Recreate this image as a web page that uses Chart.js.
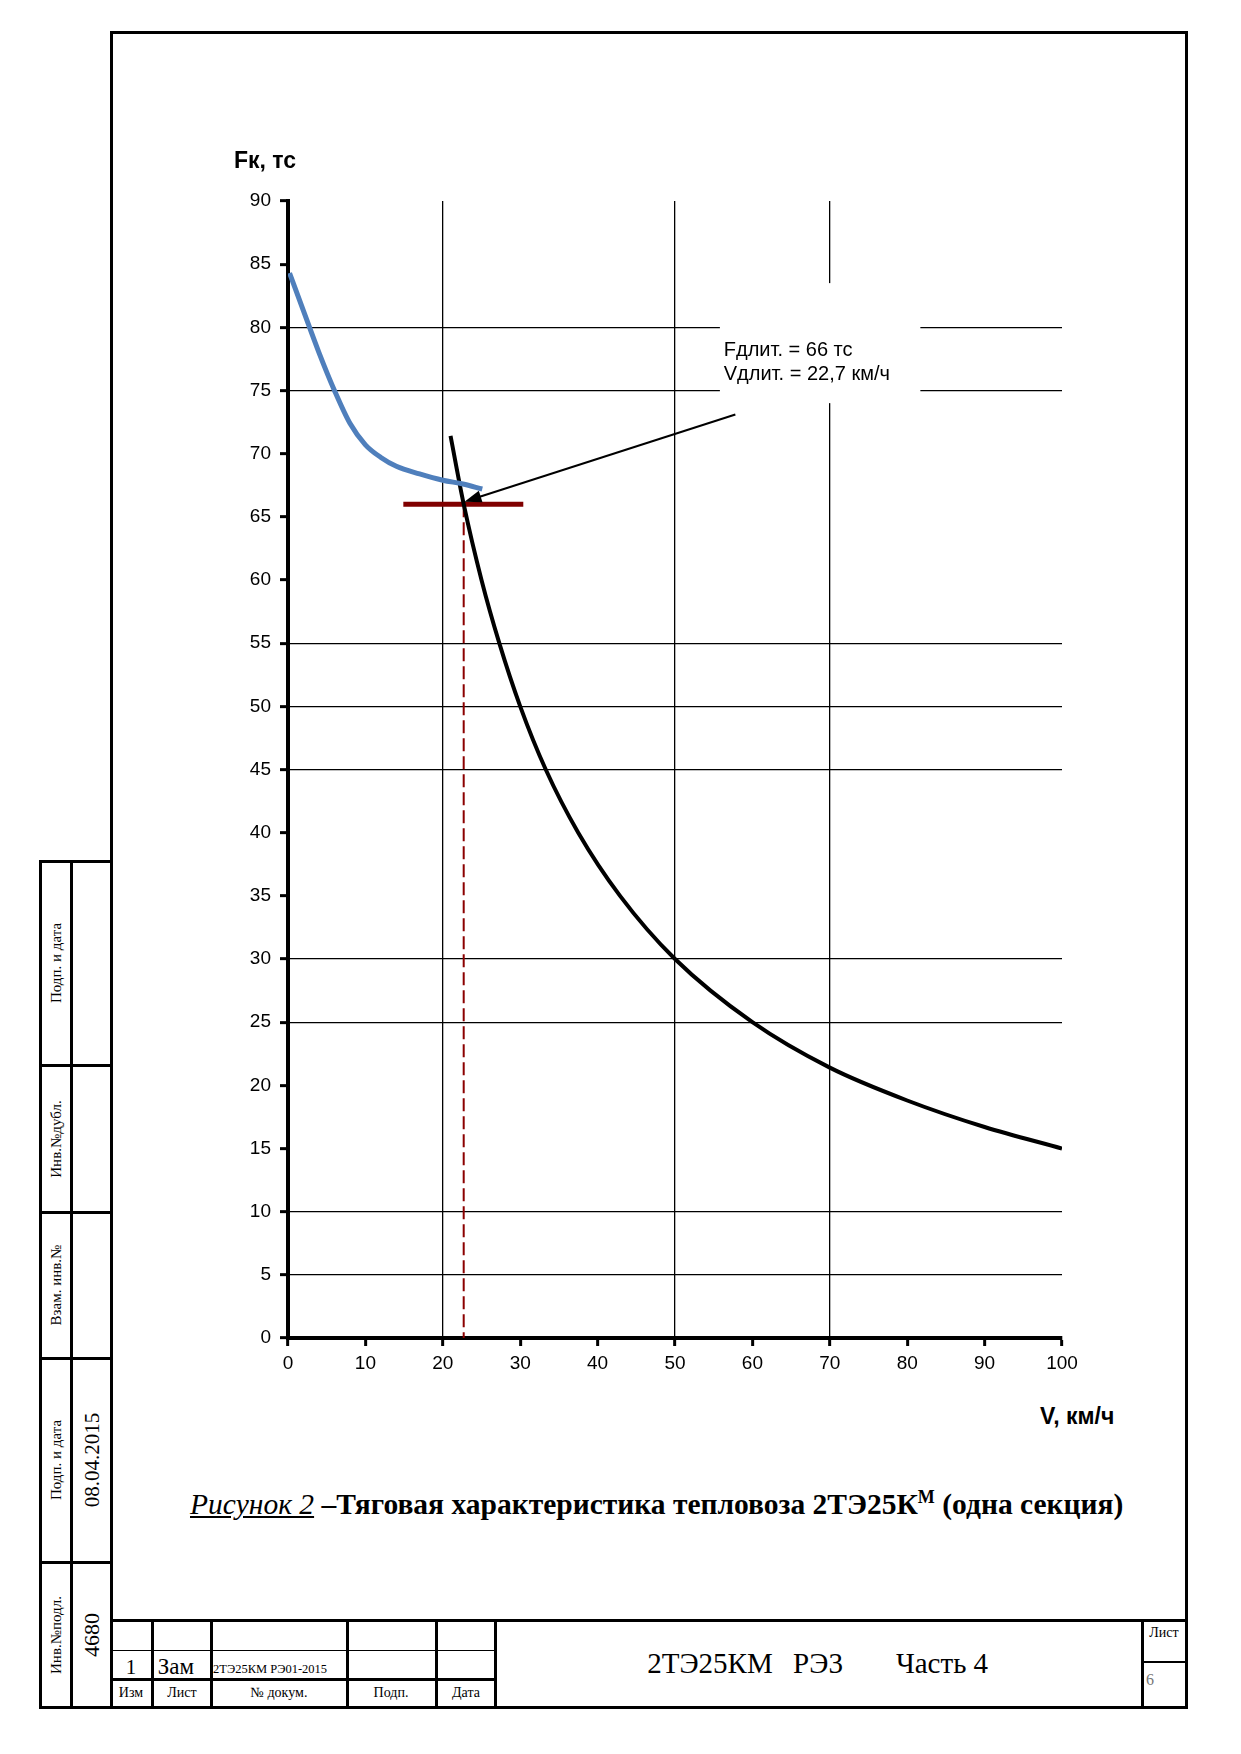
<!DOCTYPE html>
<html>
<head>
<meta charset="utf-8">
<script src="https://cdn.jsdelivr.net/npm/chart.js@4/dist/chart.umd.min.js"></script>
<style>
  html, body { margin: 0; padding: 0; background: #fff; }
  #page { position: relative; width: 1241px; height: 1754px; overflow: hidden; background: #fff; }
  .ln { position: absolute; background: #000; }
  .t { position: absolute; white-space: nowrap; color: #000; font-family: "Liberation Serif", "DejaVu Serif", serif; }
  .sans { font-family: "Liberation Sans", Arial, sans-serif; }
  #chartBox { position: absolute; left: 200px; top: 170px; width: 930px; height: 1230px; }
</style>
</head>
<body>
<div id="page">
  <div id="chartBox"><canvas id="tyaga"></canvas></div>

  <div class="t sans" style="left:234px; top:147px; font-size:23px; font-weight:bold;">Fк, тс</div>
  <div class="t sans" style="left:1040px; top:1403px; font-size:23px; font-weight:bold;">V, км/ч</div>

  <div class="t" style="left:190px; top:1487px; font-size:29.5px;">
    <span style="font-style:italic; text-decoration:underline;">Рисунок 2</span>
    <b>–Тяговая характеристика тепловоза 2ТЭ25К<sup style="font-size:18px;">М</sup> (одна секция)</b>
  </div>
</div>

<script>
// Тяговая характеристика: Fк (тс) от V (км/ч)
const blueV = [0.2, 2.0, 4.0, 6.0, 8.0, 10.0, 12.0, 14.0, 17.0, 20.0, 22.6, 25.1];
const blueF = [84.3, 81.3, 78.0, 75.0, 72.4, 70.7, 69.7, 69.0, 68.4, 67.9, 67.6, 67.2];

const blackV = [21, 22.7, 25, 27.3, 30, 33.3, 37.5, 42.9, 50, 60, 70, 80, 90, 100];
const blackF = [71.4, 66, 60, 55, 50, 45, 40, 35, 30, 25, 21.4, 18.8, 16.7, 15];

// длительный режим
const dlitV = 22.7;
const dlitF = 66;
const dlitLineV = [14.9, 30.4];

// сетка (только эти линии видны на рисунке)
const gridX = [20, 50, 70];
const gridY = [5, 10, 25, 30, 45, 50, 55, 75, 80];

// подпись и стрелка
const labelLines = ['Fдлит. = 66 тс', 'Vдлит. = 22,7 км/ч'];
const labelV = 56.3;
const labelF = [78.2, 76.3];
const boxV = [55.8, 81.7];
const boxF = [83.5, 74.0];
const arrowFrom = [57.8, 73.1];
const arrowTo = [22.8, 66.2];

function pts(xs, ys) {
  return xs.map((v, i) => ({ x: v, y: ys[i] }));
}

// линии рамки и штампа
const page = document.getElementById('page');
function line(x, y, w, h) {
  const d = document.createElement('div');
  d.className = 'ln';
  d.style.left = x + 'px'; d.style.top = y + 'px';
  d.style.width = w + 'px'; d.style.height = h + 'px';
  page.appendChild(d);
}
function text(str, x, y, size, extra) {
  const d = document.createElement('div');
  d.className = 't';
  d.textContent = str;
  d.style.left = x + 'px'; d.style.top = y + 'px';
  d.style.fontSize = size + 'px';
  d.style.transform = 'translate(-50%, -50%)';
  if (extra) Object.assign(d.style, extra);
  page.appendChild(d);
}
function rtext(str, x, y, size) {
  text(str, x, y, size, { transform: 'translate(-50%, -50%) rotate(-90deg)' });
}

// рамка листа
line(110, 31, 1078, 3);
line(110, 31, 3, 1678);
line(1185, 31, 3, 1678);
line(110, 1706, 1078, 3);

// основная надпись
line(110, 1619, 1078, 3);
[152, 211, 347, 436, 495].forEach(x => line(x - 1, 1619, 3, 89));
line(1141, 1619, 3, 89);
line(110, 1650, 386, 1);
line(110, 1678, 386, 3);
line(1143, 1661, 44, 2);

text('1', 131, 1667, 21);
text('Зам', 176, 1667, 23);
text('2ТЭ25КМ РЭ01-2015', 213, 1669, 12.5, { transform: 'translate(0, -50%)', width: '132px', overflow: 'hidden' });
text('Изм', 131, 1693, 14);
text('Лист', 182, 1693, 14);
text('№ докум.', 279, 1693, 14);
text('Подп.', 391, 1693, 14);
text('Дата', 466, 1693, 14);
text('2ТЭ25КМ', 710, 1663, 29);
text('РЭ3', 818, 1663, 29);
text('Часть 4', 942, 1663, 29);
text('Лист', 1164, 1633, 14);
text('6', 1150, 1680, 16, { color: '#777' });

// боковой штамп
line(39, 860, 3, 849);
line(70, 860, 3, 849);
line(39, 860, 73, 3);
[1065, 1212, 1358, 1562].forEach(y => line(39, y - 1, 73, 3));
line(39, 1706, 73, 3);
rtext('Подп. и дата', 56, 963, 15);
rtext('Инв.№дубл.', 56, 1139, 15);
rtext('Взам. инв.№', 56, 1285, 15);
rtext('Подп. и дата', 56, 1460, 15);
rtext('Инв.№подл.', 56, 1635, 15);
rtext('08.04.2015', 92, 1460, 21);
rtext('4680', 92, 1635, 22);

const annot = {
  id: 'annot',
  beforeDatasetsDraw(chart) {
    const { ctx, scales: { x, y } } = chart;
    const x1 = x.getPixelForValue(boxV[0]), x2 = x.getPixelForValue(boxV[1]);
    const y1 = y.getPixelForValue(boxF[0]), y2 = y.getPixelForValue(boxF[1]);
    ctx.save();
    ctx.fillStyle = '#fff';
    ctx.fillRect(x1, y1, x2 - x1, y2 - y1);
    ctx.restore();
  },
  afterDatasetsDraw(chart) {
    const { ctx, scales: { x, y } } = chart;
    const ax = x.getPixelForValue(arrowFrom[0]), ay = y.getPixelForValue(arrowFrom[1]);
    const bx = x.getPixelForValue(arrowTo[0]), by = y.getPixelForValue(arrowTo[1]);
    const ang = Math.atan2(by - ay, bx - ax);
    const len = 17, half = 6;
    ctx.save();
    ctx.strokeStyle = '#000';
    ctx.lineWidth = 2;
    ctx.beginPath();
    ctx.moveTo(ax, ay);
    ctx.lineTo(bx - Math.cos(ang) * len * 0.8, by - Math.sin(ang) * len * 0.8);
    ctx.stroke();
    ctx.fillStyle = '#000';
    ctx.beginPath();
    ctx.moveTo(bx, by);
    ctx.lineTo(bx - Math.cos(ang) * len - Math.sin(ang) * half, by - Math.sin(ang) * len + Math.cos(ang) * half);
    ctx.lineTo(bx - Math.cos(ang) * len + Math.sin(ang) * half, by - Math.sin(ang) * len - Math.cos(ang) * half);
    ctx.closePath();
    ctx.fill();

    ctx.font = '20px "Liberation Sans", Arial, sans-serif';
    ctx.textBaseline = 'middle';
    ctx.textAlign = 'left';
    labelLines.forEach((s, i) => {
      ctx.fillText(s, x.getPixelForValue(labelV), y.getPixelForValue(labelF[i]));
    });
    ctx.restore();
  }
};

const tickFont = { family: '"Liberation Sans", Arial, sans-serif', size: 19 };

new Chart(document.getElementById('tyaga'), {
  type: 'line',
  data: {
    datasets: [
      {
        data: pts(blueV, blueF),
        borderColor: '#4f7fbc',
        borderWidth: 5,
        pointRadius: 0,
        cubicInterpolationMode: 'monotone'
      },
      {
        data: pts(blackV, blackF),
        borderColor: '#000',
        borderWidth: 4,
        pointRadius: 0,
        cubicInterpolationMode: 'monotone'
      },
      {
        data: pts(dlitLineV, [dlitF, dlitF]),
        borderColor: '#800000',
        borderWidth: 5,
        pointRadius: 0
      },
      {
        data: pts([dlitV, dlitV], [dlitF, 0]),
        borderColor: '#8b0000',
        borderWidth: 2,
        borderDash: [13, 5],
        pointRadius: 0
      }
    ]
  },
  options: {
    responsive: true,
    maintainAspectRatio: false,
    animation: false,
    parsing: false,
    layout: { padding: { left: 28, right: 68, top: 31, bottom: 20 } },
    plugins: { legend: { display: false }, tooltip: { enabled: false } },
    scales: {
      x: {
        type: 'linear',
        min: 0, max: 100,
        afterFit: s => { s.height = 42; },
        ticks: { stepSize: 10, color: '#000', font: tickFont, padding: 6, maxRotation: 0 },
        grid: {
          color: c => (c.tick && gridX.includes(c.tick.value)) ? '#000' : 'rgba(0,0,0,0)',
          lineWidth: 1.3,
          tickColor: '#000',
          tickLength: 8,
          tickWidth: 3
        },
        border: { display: true, color: '#000', width: 4 }
      },
      y: {
        type: 'linear',
        min: 0, max: 90,
        afterFit: s => { s.width = 60; },
        ticks: { stepSize: 5, color: '#000', font: tickFont, padding: 9 },
        grid: {
          color: c => (c.tick && gridY.includes(c.tick.value)) ? '#000' : 'rgba(0,0,0,0)',
          lineWidth: 1.3,
          tickColor: '#000',
          tickLength: 8,
          tickWidth: 3
        },
        border: { display: true, color: '#000', width: 4 }
      }
    }
  },
  plugins: [annot]
});
</script>
</body>
</html>
